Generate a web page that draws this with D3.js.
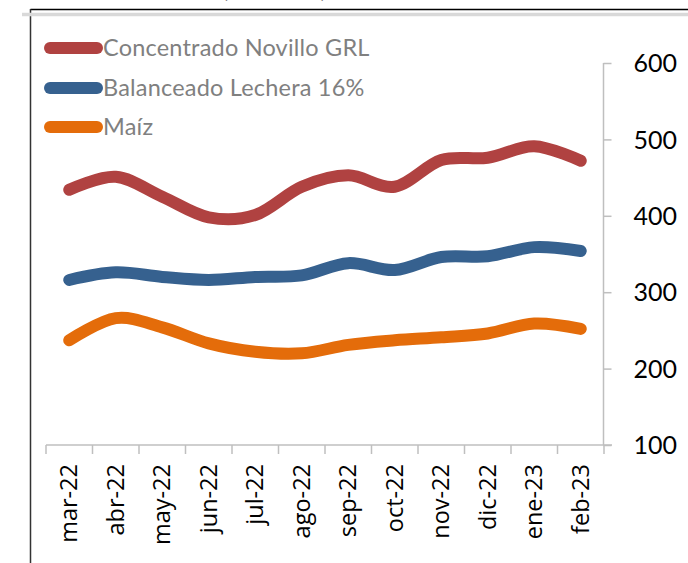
<!DOCTYPE html>
<html>
<head>
<meta charset="utf-8">
<script src="https://cdn.jsdelivr.net/npm/d3@7"></script>
<style>
html,body{margin:0;padding:0;background:#fff;}
svg{display:block;}
</style>
</head>
<body>
<svg id="chart" width="688" height="563"></svg>
<script>
const months = ["mar-22","abr-22","may-22","jun-22","jul-22","ago-22","sep-22","oct-22","nov-22","dic-22","ene-23","feb-23"];
const concentrado = [434, 451, 425, 398, 401, 438, 453, 438, 473, 476, 491, 472];
const balanceado  = [316, 326, 320, 316, 320, 322, 338, 329, 346, 347, 359, 354];
const maiz        = [237, 266, 254, 233, 222, 220, 231, 237, 241, 246, 259, 252];
const seriesNames = ["Concentrado Novillo GRL", "Balanceado Lechera 16%", "Maíz"];
const seriesColors = ["#B04241", "#36618F", "#E46C0A"];
const yTicks = [100, 200, 300, 400, 500, 600];
const titleText = "(US$/ton)";

const svg = d3.select("#chart");

// frame lines at top/left
svg.append("line").attr("x1",30.5).attr("x2",688).attr("y1",9.5).attr("y2",9.5)
  .attr("stroke","#000").attr("stroke-width",1.5);
svg.append("line").attr("x1",30.5).attr("x2",30.5).attr("y1",9).attr("y2",563)
  .attr("stroke","#333").attr("stroke-width",1.5);
svg.append("line").attr("x1",22).attr("x2",688).attr("y1",14.5).attr("y2",14.5)
  .attr("stroke","#D9D9D9").attr("stroke-width",3.5);

// cut-off title (only its lower edge shows, as in the reference)
svg.append("text").attr("x",222).attr("y",-3).text(titleText)
  .attr("font-family","Lato, sans-serif").attr("font-weight","bold").attr("font-size",24)
  .attr("fill","#595959");

const x = d3.scaleBand().domain(months).range([46, 604]);
const y = d3.scaleLinear().domain([100, 600]).range([445, 63]);

// x axis
svg.append("line").attr("x1",46).attr("x2",612).attr("y1",445).attr("y2",445)
  .attr("stroke","#BFBFBF").attr("stroke-width",1.5);
const bounds = months.map(m => x(m)).concat([x(months[months.length-1]) + x.bandwidth()]);
svg.selectAll(".xt").data(bounds).enter().append("line")
  .attr("x1",d=>d).attr("x2",d=>d).attr("y1",445).attr("y2",454)
  .attr("stroke","#BFBFBF").attr("stroke-width",1.5);
svg.selectAll(".xl").data(months).enter().append("text")
  .attr("transform", d => `translate(${x(d)+x.bandwidth()/2+8},464) rotate(-90)`)
  .attr("text-anchor","end")
  .attr("font-family","'Open Sans', 'Noto Sans', sans-serif")
  .attr("font-size",23.5)
  .attr("fill","#000")
  .text(d=>d);

// y axis (right)
const yAxis = svg.append("g").attr("transform","translate(603.5,0)")
  .call(d3.axisRight(y).tickValues(yTicks).tickSize(8).tickPadding(22));
yAxis.select(".domain").attr("stroke","#BFBFBF").attr("stroke-width",1.5)
  .attr("d", `M0,${y(600)}V${y(100)}`);
yAxis.selectAll(".tick line").attr("stroke","#BFBFBF").attr("stroke-width",1.5);
yAxis.selectAll(".tick text").attr("font-family","Lato, sans-serif").attr("font-size",25)
  .attr("fill","#000").attr("dy","0.35em");

// lines
const allSeries = [concentrado, balanceado, maiz];
const line = d3.line()
  .x((d,i) => x(months[i]) + x.bandwidth()/2)
  .y(d => y(d))
  .curve(d3.curveCardinal.tension(0));
allSeries.forEach((s, k) => {
  svg.append("path").datum(s).attr("d", line)
    .attr("fill","none").attr("stroke", seriesColors[k])
    .attr("stroke-width",12).attr("stroke-linecap","round").attr("stroke-linejoin","round");
});

// legend
const legY = [48, 88, 127];
seriesNames.forEach((n, k) => {
  svg.append("line").attr("x1",50).attr("x2",97).attr("y1",legY[k]).attr("y2",legY[k])
    .attr("stroke", seriesColors[k]).attr("stroke-width",12).attr("stroke-linecap","round");
  svg.append("text").attr("x",103).attr("y",legY[k]).attr("dy","0.35em")
    .attr("font-family","Lato, sans-serif").attr("font-size",23.5)
    .attr("letter-spacing",0.2)
    .attr("fill","#808080").text(n);
});
</script>
</body>
</html>
